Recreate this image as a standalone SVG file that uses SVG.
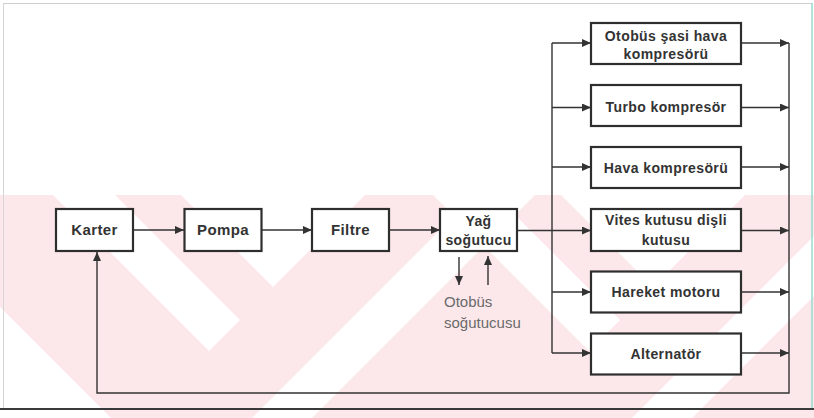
<svg xmlns="http://www.w3.org/2000/svg" width="814" height="418" viewBox="0 0 814 418">
  <style>
    .box { fill: #ffffff; stroke: #2e2e2e; stroke-width: 2.2; }
    .lbl { font-family: "Liberation Sans", Arial, sans-serif; font-weight: bold; font-size: 14px; fill: #333333; text-anchor: middle; letter-spacing: 0.4px; }
    .big { font-size: 15px; }
    .note { font-family: "Liberation Sans", Arial, sans-serif; font-size: 15px; fill: #6a6a6a; }
    .conn { stroke: #333333; stroke-width: 1.4; fill: none; }
    .wm { fill: #ffffff; }
  </style>
  <defs>
    <marker id="arr" markerUnits="userSpaceOnUse" markerWidth="9" markerHeight="8" refX="9" refY="4" orient="auto">
      <path d="M0,0 L9,4 L0,8 z" fill="#333333"/>
    </marker>
    <clipPath id="wmclip">
      <rect x="0" y="195" width="814" height="223"/>
    </clipPath>
  </defs>

  <rect x="0" y="0" width="814" height="418" fill="#ffffff"/>

  <g id="watermark" clip-path="url(#wmclip)">
    <rect x="0" y="195" width="814" height="223" fill="#fce8eb"/>
    <polygon class="wm" points="181,195 365,195 273,287"/>
    <polygon class="wm" points="53,195 115,195 240,320 209,351"/>
    <polygon class="wm" points="475,195 535,195 312,418 252,418"/>
    <polygon class="wm" points="0,307 0,418 111,418"/>
    <polygon class="wm" points="561,195 745,195 653,287"/>
    <polygon class="wm" points="433,195 495,195 620,320 589,351"/>
    <polygon class="wm" points="855,195 915,195 692,418 632,418"/>
  </g>

  <g id="frame">
    <line x1="3" y1="3.5" x2="812" y2="3.5" stroke="#cfcfcf" stroke-width="1"/>
    <line x1="3.5" y1="3" x2="3.5" y2="408" stroke="#d5d5d5" stroke-width="1"/>
    <line x1="812" y1="3" x2="812" y2="408" stroke="#9ad9cc" stroke-width="1.5"/>
    <line x1="0" y1="409" x2="814" y2="409" stroke="#3a3a3a" stroke-width="2"/>
  </g>

  <g id="connectors">
    <path class="conn" d="M133,230 H184" marker-end="url(#arr)"/>
    <path class="conn" d="M261.5,230 H312" marker-end="url(#arr)"/>
    <path class="conn" d="M389,230 H440" marker-end="url(#arr)"/>
    <path class="conn" d="M517,230.5 H591" marker-end="url(#arr)"/>
    <path class="conn" d="M552,43 V353"/>
    <path class="conn" d="M552,43 H591" marker-end="url(#arr)"/>
    <path class="conn" d="M552,107.5 H591" marker-end="url(#arr)"/>
    <path class="conn" d="M552,167 H591" marker-end="url(#arr)"/>
    <path class="conn" d="M552,292 H591" marker-end="url(#arr)"/>
    <path class="conn" d="M552,353 H591" marker-end="url(#arr)"/>
    <path class="conn" d="M742,43 H789" marker-end="url(#arr)"/>
    <path class="conn" d="M742,107.5 H789" marker-end="url(#arr)"/>
    <path class="conn" d="M742,167 H789" marker-end="url(#arr)"/>
    <path class="conn" d="M742,230.5 H789" marker-end="url(#arr)"/>
    <path class="conn" d="M742,292 H789" marker-end="url(#arr)"/>
    <path class="conn" d="M742,353 H789" marker-end="url(#arr)"/>
    <path class="conn" d="M789,43 V393 H97 V252" marker-end="url(#arr)"/>
    <path class="conn" d="M459,257 V285" marker-end="url(#arr)"/>
    <path class="conn" d="M488,285 V256" marker-end="url(#arr)"/>
  </g>

  <g id="karter">
    <rect class="box" x="56" y="209" width="77" height="42"/>
    <text class="lbl big" x="94.5" y="235">Karter</text>
  </g>
  <g id="pompa">
    <rect class="box" x="184.5" y="209" width="77" height="42"/>
    <text class="lbl big" x="223" y="235">Pompa</text>
  </g>
  <g id="filtre">
    <rect class="box" x="312" y="209" width="77" height="42"/>
    <text class="lbl big" x="350.5" y="235">Filtre</text>
  </g>
  <g id="yag-sogutucu">
    <rect class="box" x="440" y="209" width="77" height="42"/>
    <text class="lbl" x="478.5" y="226">Yağ</text>
    <text class="lbl" x="478.5" y="245">soğutucu</text>
  </g>
  <g id="otobus-sogutucusu">
    <text class="note" x="444" y="307">Otobüs</text>
    <text class="note" x="444" y="328">soğutucusu</text>
  </g>
  <g id="sasi-hava-kompresoru">
    <rect class="box" x="591" y="23" width="150" height="41"/>
    <text class="lbl" x="666" y="41">Otobüs şasi hava</text>
    <text class="lbl" x="666" y="59">kompresörü</text>
  </g>
  <g id="turbo-kompresor">
    <rect class="box" x="591" y="85" width="150" height="41"/>
    <text class="lbl" x="666" y="112">Turbo kompresör</text>
  </g>
  <g id="hava-kompresoru">
    <rect class="box" x="591" y="147" width="150" height="41"/>
    <text class="lbl" x="666" y="173">Hava kompresörü</text>
  </g>
  <g id="vites-kutusu">
    <rect class="box" x="591" y="209" width="150" height="42"/>
    <text class="lbl" x="666" y="225">Vites kutusu dişli</text>
    <text class="lbl" x="666" y="245">kutusu</text>
  </g>
  <g id="hareket-motoru">
    <rect class="box" x="591" y="271.5" width="150" height="41"/>
    <text class="lbl" x="666" y="297">Hareket motoru</text>
  </g>
  <g id="alternator">
    <rect class="box" x="591" y="333.5" width="150" height="41"/>
    <text class="lbl" x="666" y="359">Alternatör</text>
  </g>
</svg>
